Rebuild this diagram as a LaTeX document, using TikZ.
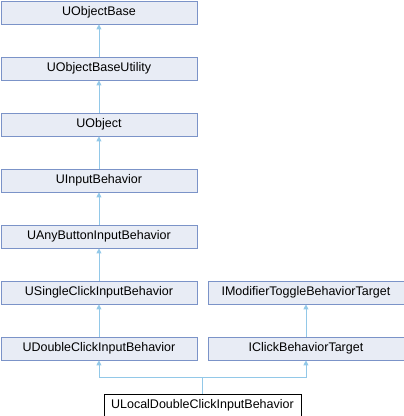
\documentclass[tikz,border=0pt]{standalone}
\usepackage{fontspec}
\setmainfont{Liberation Sans}
\usetikzlibrary{arrows.meta}
\definecolor{boxfill}{HTML}{E8ECF5}
\definecolor{boxline}{HTML}{7B93C8}
\definecolor{edgecol}{HTML}{92C8E8}
\begin{document}
\begin{tikzpicture}[x=1pt,y=-1pt,
  cls/.style={draw=boxline, fill=boxfill, line width=0.9pt, minimum width=196pt, minimum height=23pt, inner sep=0pt, font=\fontsize{12.5}{14}\selectfont, anchor=north west},
  leaf/.style={draw=black, fill=white, line width=0.9pt, minimum width=197pt, minimum height=22pt, inner sep=0pt, font=\fontsize{12.5}{14}\selectfont, anchor=north west},
  inh/.style={draw=edgecol, line width=0.9pt, -{Triangle[width=5pt,length=5pt,fill=edgecol]}}]
\useasboundingbox (0,0) rectangle (404,416);
\node[cls] (a) at (0.5,0.5) {UObjectBase};
\node[cls] (b) at (0.5,56.5) {UObjectBaseUtility};
\node[cls] (c) at (0.5,112.5) {UObject};
\node[cls] (d) at (0.5,168.5) {UInputBehavior};
\node[cls] (e) at (0.5,224.5) {UAnyButtonInputBehavior};
\node[cls] (f) at (0.5,280.5) {USingleClickInputBehavior};
\node[cls] (g) at (0.5,336.5) {UDoubleClickInputBehavior};
\node[cls] (h) at (207.5,280.5) {IModifierToggleBehaviorTarget};
\node[cls] (i) at (207.5,336.5) {IClickBehaviorTarget};
\node[leaf] (j) at (103.5,393.5) {ULocalDoubleClickInputBehavior};
\coordinate (m) at (j.north |- 0,377);
\draw[inh] (b) -- (a);
\draw[inh] (c) -- (b);
\draw[inh] (d) -- (c);
\draw[inh] (e) -- (d);
\draw[inh] (f) -- (e);
\draw[inh] (g) -- (f);
\draw[inh] (i) -- (h);
\draw[inh] (j.north) -- (m) -| (g.south);
\draw[inh] (m) -| (i.south);
\end{tikzpicture}
\end{document}
